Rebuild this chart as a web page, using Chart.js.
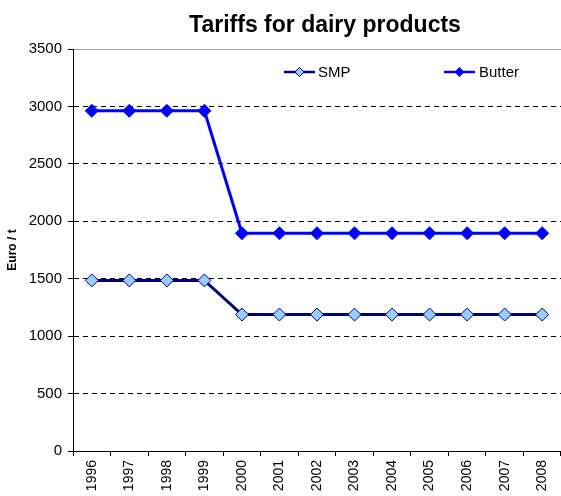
<!DOCTYPE html>
<html>
<head>
<meta charset="utf-8">
<script src="https://cdn.jsdelivr.net/npm/chart.js@4.4.1/dist/chart.umd.min.js"></script>
<style>
  html, body { margin: 0; padding: 0; background: #fff; overflow: hidden; }
  #chart { display: block; }
</style>
</head>
<body>
<canvas id="chart" width="563" height="496"></canvas>
<script>
// ---- data ----
const years = ['1996', '1997', '1998', '1999', '2000', '2001', '2002',
               '2003', '2004', '2005', '2006', '2007', '2008'];
const smp = [1485, 1485, 1485, 1485, 1188, 1188, 1188, 1188, 1188, 1188, 1188, 1188, 1188];
const butter = [2962, 2962, 2962, 2962, 1896, 1896, 1896, 1896, 1896, 1896, 1896, 1896, 1896];
const yTicksMax = 3500;
const yStep = 500;

const FONT = "'Liberation Sans', Arial, sans-serif";

// title + inline legend (line with a diamond in the middle)
const decorations = {
  id: 'decorations',
  afterDraw(chart) {
    const ctx = chart.ctx;
    ctx.save();
    ctx.fillStyle = '#000';
    ctx.font = 'bold 23px ' + FONT;
    ctx.textAlign = 'center';
    ctx.textBaseline = 'alphabetic';
    ctx.fillText('Tariffs for dairy products', 325, 32);

    const items = [
      { ds: chart.data.datasets[0], x0: 284, x1: 315, tx: 318 },
      { ds: chart.data.datasets[1], x0: 444, x1: 475, tx: 479 }
    ];
    const y = 72;
    items.forEach(it => {
      ctx.strokeStyle = it.ds.borderColor;
      ctx.lineWidth = 2.5;
      ctx.beginPath();
      ctx.moveTo(it.x0, y);
      ctx.lineTo(it.x1, y);
      ctx.stroke();
      ctx.fillStyle = it.ds.pointBackgroundColor;
      ctx.strokeStyle = it.ds.pointBorderColor;
      ctx.lineWidth = 1;
      ctx.beginPath();
      const cx = (it.x0 + it.x1) / 2, r = 4.5;
      ctx.moveTo(cx, y - r);
      ctx.lineTo(cx + r, y);
      ctx.lineTo(cx, y + r);
      ctx.lineTo(cx - r, y);
      ctx.closePath();
      ctx.fill();
      ctx.stroke();
      ctx.fillStyle = '#000';
      ctx.font = '15px ' + FONT;
      ctx.textAlign = 'left';
      ctx.textBaseline = 'middle';
      ctx.fillText(it.ds.label, it.tx, y + 1);
    });
    ctx.restore();
  }
};

new Chart(document.getElementById('chart'), {
  type: 'line',
  data: {
    labels: years,
    datasets: [
      {
        label: 'SMP',
        data: smp,
        borderColor: '#000080',
        borderWidth: 3,
        pointStyle: 'rectRot',
        pointRadius: 6.5,
        pointBackgroundColor: '#99ccff',
        pointBorderColor: '#000080',
        pointBorderWidth: 1,
        tension: 0
      },
      {
        label: 'Butter',
        data: butter,
        borderColor: '#0000ff',
        borderWidth: 3,
        pointStyle: 'rectRot',
        pointRadius: 6.5,
        pointBackgroundColor: '#0000ff',
        pointBorderColor: '#0000ff',
        pointBorderWidth: 1,
        tension: 0
      }
    ]
  },
  options: {
    responsive: false,
    animation: false,
    layout: { autoPadding: false, padding: { top: 49, right: 0, left: 0, bottom: 0 } },
    plugins: {
      legend: { display: false },
      title: { display: false },
      tooltip: { enabled: false }
    },
    scales: {
      x: {
        offset: true,
        afterFit: s => { s.height = 45; },
        grid: {
          offset: true,
          drawOnChartArea: false,
          drawTicks: true,
          tickLength: 5,
          tickColor: '#000',
          color: '#000'
        },
        border: { color: '#000', width: 1 },
        ticks: {
          autoSkip: false,
          maxRotation: 90,
          minRotation: 90,
          padding: 4,
          color: '#000',
          font: { family: FONT, size: 14 }
        }
      },
      y: {
        min: 0,
        max: yTicksMax,
        afterFit: s => { s.width = 73; },
        grid: {
          color: c => c.tick && c.tick.value === yTicksMax ? '#a0a0a0' : (c.tick && c.tick.value === 0 ? 'rgba(0,0,0,0)' : '#000'),
          lineWidth: 1,
          tickLength: 5,
          tickColor: '#000'
        },
        border: {
          color: '#000',
          width: 1,
          dash: c => c.tick && c.tick.value === yTicksMax ? [] : [5, 4]
        },
        ticks: {
          stepSize: yStep,
          padding: 6,
          color: '#000',
          font: { family: FONT, size: 15 },
          callback: v => String(v)
        },
        title: {
          display: true,
          text: 'Euro / t',
          color: '#000',
          font: { family: FONT, size: 12, weight: 'bold' },
          padding: { top: 5, bottom: 0 }
        }
      }
    }
  },
  plugins: [decorations]
});
</script>
</body>
</html>
